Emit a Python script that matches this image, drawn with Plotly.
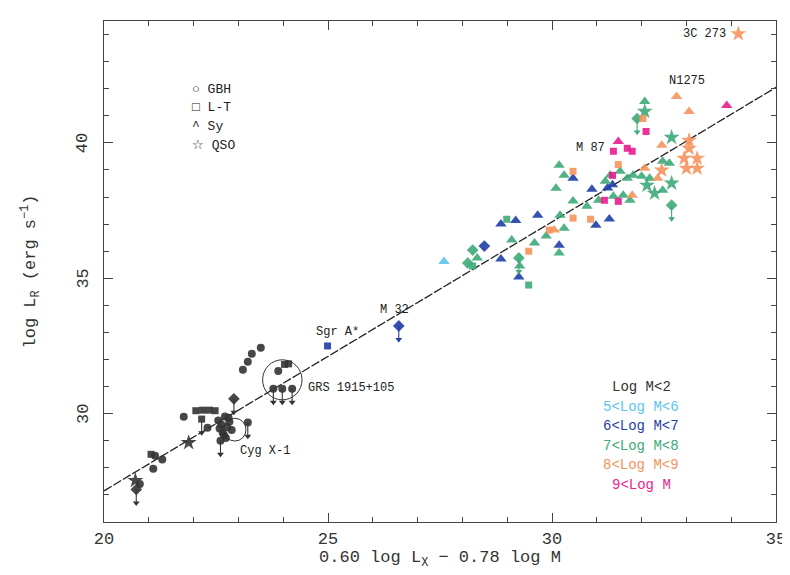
import plotly.graph_objects as go

# ---------------- data ----------------
x_range = [20, 35]
y_range = [26, 44.5]
y_tick_vals = [30, 35, 40]

fit_x = [20, 35]
fit_y = [27.15, 42.05]

# Log M < 2 (black)
black_x = [23.10, 23.21, 23.30, 23.50, 23.89, 24.03, 24.12, 23.78, 23.98, 24.20,
           21.78, 22.05, 22.20, 22.35, 22.48, 22.18, 22.31, 22.90, 23.21, 21.89,
           21.14, 21.30, 21.10, 21.05, 20.70, 20.72, 20.80,
           22.55, 22.62, 22.70, 22.75, 22.65, 22.80, 22.72, 22.60, 22.85, 22.78, 22.68, 22.58]
black_y = [31.62, 31.92, 32.21, 32.43, 31.58, 31.82, 31.84, 30.92, 30.92, 30.92,
           29.89, 30.11, 30.13, 30.13, 30.11, 29.80, 29.48, 30.55, 29.67, 28.93,
           28.45, 28.31, 27.97, 28.50, 27.53, 27.20, 27.40,
           29.75, 29.60, 29.90, 29.50, 29.30, 29.70, 29.10, 29.00, 29.40, 29.85, 29.20, 29.45]
black_cls = ["GBH", "GBH", "GBH", "GBH", "GBH", "LT", "LT", "GBH", "GBH", "GBH",
             "GBH", "LT", "LT", "LT", "LT", "LT", "GBH", "UL", "GBH", "QSO",
             "GBH", "GBH", "GBH", "LT", "QSO", "UL", "GBH",
             "GBH", "GBH", "GBH", "GBH", "GBH", "GBH", "GBH", "GBH", "GBH", "GBH", "GBH", "GBH"]
black_ul = [0, 0, 0, 0, 0, 0, 0, 1, 1, 1,
            0, 0, 0, 0, 0, 1, 0, 1, 1, 0,
            0, 0, 0, 0, 0, 1, 0,
            0, 0, 0, 0, 0, 0, 0, 1, 0, 0, 0, 0]

# 5 < Log M < 6 (light blue)
lblue_x = [27.59]
lblue_y = [35.62]
lblue_cls = ["Sy"]
lblue_ul = [0]

# 6 < Log M < 7 (dark blue)
dblue_x = [24.99, 26.58, 28.49, 28.86, 29.19, 29.68, 28.86, 29.26, 30.16, 30.47,
           30.89, 31.24, 30.98, 31.28, 31.35]
dblue_y = [32.50, 33.24, 36.19, 37.00, 37.13, 37.33, 35.71, 35.05, 36.22, 38.69,
           38.29, 38.33, 36.96, 37.19, 38.45]
dblue_cls = ["LT", "UL", "UL", "Sy", "Sy", "Sy", "Sy", "Sy", "Sy", "Sy",
             "Sy", "Sy", "Sy", "Sy", "Sy"]
dblue_ul = [0, 1, 0, 0, 0, 0, 0, 0, 0, 0, 0, 0, 0, 0, 0]

# 7 < Log M < 8 (green)
green_x = [30.16, 30.27, 30.09, 30.47, 30.78, 30.18, 31.30, 31.52, 31.19, 31.68,
           31.37, 31.59, 31.74, 31.04, 32.07, 32.47, 32.00, 32.18, 32.47, 29.87,
           30.16, 30.27, 29.10, 29.28, 29.61, 28.33, 31.81, 32.62,
           32.67, 32.29, 32.67, 32.07, 32.12,
           31.90, 32.67, 29.26, 28.23, 28.12,
           29.48, 28.99, 28.23]
green_y = [39.17, 38.80, 38.32, 37.85, 37.66, 37.33, 38.80, 38.95, 38.58, 38.69,
           38.03, 38.07, 37.88, 37.88, 41.53, 39.32, 38.77, 38.69, 38.25, 36.56,
           35.93, 36.85, 36.41, 35.45, 36.30, 35.75, 38.80, 39.25,
           40.20, 38.14, 38.51, 41.16, 38.43,
           40.90, 37.70, 35.75, 36.04, 35.56,
           34.75, 37.18, 35.45]
green_cls = ["Sy"] * 28 + ["QSO"] * 5 + ["UL"] * 5 + ["LT"] * 3
green_ul = [0] * 33 + [1, 1, 1, 0, 0] + [0] * 3

# 8 < Log M < 9 (orange)
orange_x = [32.78, 33.06, 32.45, 31.79, 30.05, 32.07, 32.36,
            34.16, 33.06, 33.06, 32.95, 33.24, 33.00, 33.24, 32.45,
            30.47, 31.48, 30.47, 30.86, 29.94, 29.48, 32.03]
orange_y = [41.71, 41.16, 39.91, 38.07, 36.78, 39.06, 38.69,
            44.03, 40.09, 39.80, 39.43, 39.43, 39.06, 39.06, 38.99,
            38.95, 39.20, 37.22, 37.18, 36.78, 36.00, 40.90]
orange_cls = ["Sy"] * 7 + ["QSO"] * 8 + ["LT"] * 7
orange_ul = [0] * 22

# 9 < Log M (magenta)
mag_x = [33.90, 31.48, 32.10, 31.37, 31.68, 31.79, 31.17, 31.48, 31.35]
mag_y = [41.38, 40.05, 40.42, 39.69, 39.80, 39.69, 37.88, 37.84, 38.80]
mag_cls = ["Sy", "Sy", "LT", "LT", "LT", "LT", "LT", "LT", "LT"]
mag_ul = [0] * 9

# circled sources (center x, center y, radius in x, radius in y)
circle_names = ["GRS 1915+105", "Cyg X-1"]
circle_cx = [23.98, 22.92]
circle_cy = [31.25, 29.41]
circle_rx = [0.44, 0.25]
circle_ry = [0.74, 0.42]

# source labels
label_text = ["Sgr A*", "M 32", "GRS 1915+105", "Cyg X-1", "M 87", "N1275", "3C 273"]
label_x = [24.68, 26.12, 24.51, 22.99, 30.50, 32.56, 32.89]
label_y = [33.00, 33.83, 30.96, 28.64, 39.80, 42.27, 44.03]

legend_cls_text = ["○ GBH", "□ L-T", "^ Sy", "☆ QSO"]
legend_mass_text = ["Log M<2", "5<Log M<6", "6<Log M<7", "7<Log M<8", "8<Log M<9", "9<Log M"]

# ---------------- styling ----------------
sym_map = {"GBH": "circle", "LT": "square", "Sy": "triangle-up", "QSO": "star", "UL": "diamond"}
size_map = {"GBH": 8, "LT": 7, "Sy": 10, "QSO": 12, "UL": 9}

groups = [
    ("Log M<2", "#333333", black_x, black_y, black_cls, black_ul),
    ("5<Log M<6", "#5cc4ee", lblue_x, lblue_y, lblue_cls, lblue_ul),
    ("6<Log M<7", "#1f3ea6", dblue_x, dblue_y, dblue_cls, dblue_ul),
    ("7<Log M<8", "#3daa78", green_x, green_y, green_cls, green_ul),
    ("8<Log M<9", "#f5935c", orange_x, orange_y, orange_cls, orange_ul),
    ("9<Log M", "#ea1c8d", mag_x, mag_y, mag_cls, mag_ul),
]

fig = go.Figure()

fig.add_trace(go.Scatter(x=fit_x, y=fit_y, mode="lines",
                         line=dict(color="#222", width=1.3, dash="9px,2px"),
                         showlegend=False, hoverinfo="skip"))

arrow_len = 0.5
for name, color, xs, ys, cls, ul in groups:
    fig.add_trace(go.Scatter(
        x=xs, y=ys, mode="markers", name=name, showlegend=False,
        marker=dict(symbol=[sym_map[k] for k in cls],
                    size=[size_map[k] for k in cls],
                    color=color, opacity=0.9, line=dict(width=0))))
    # upper-limit arrows: shaft + head, derived from the data points
    lx, ly, hx, hy = [], [], [], []
    for xi, yi, u in zip(xs, ys, ul):
        if u:
            lx += [xi, xi, None]
            ly += [yi, yi - arrow_len, None]
            hx.append(xi)
            hy.append(yi - arrow_len)
    if hx:
        fig.add_trace(go.Scatter(x=lx, y=ly, mode="lines", showlegend=False,
                                 line=dict(color=color, width=1.1), hoverinfo="skip"))
        fig.add_trace(go.Scatter(x=hx, y=hy, mode="markers", showlegend=False,
                                 marker=dict(symbol="triangle-down", size=6, color=color),
                                 hoverinfo="skip"))

shapes = []
for cx, cy, rx, ry in zip(circle_cx, circle_cy, circle_rx, circle_ry):
    shapes.append(dict(type="circle", xref="x", yref="y",
                       x0=cx - rx, x1=cx + rx, y0=cy - ry, y1=cy + ry,
                       line=dict(color="#333", width=1)))

mono = "Liberation Mono"
annotations = []
for t, xi, yi in zip(label_text, label_x, label_y):
    annotations.append(dict(x=xi, y=yi, text=t, showarrow=False, xanchor="left",
                            yanchor="middle", font=dict(family=mono, size=12, color="#222")))

cls_y_px = [81, 99, 118, 137]
for t, py in zip(legend_cls_text, cls_y_px):
    annotations.append(dict(x=(183 - 96) / 682, y=(514 - py) / 502, xref="paper", yref="paper",
                            text=t, showarrow=False, xanchor="left", yanchor="middle",
                            font=dict(family=mono, size=13, color="#222")))

mass_y_px = [379, 399, 418, 438, 457, 477]
for (name, color, *_), t, py in zip(groups, legend_mass_text, mass_y_px):
    annotations.append(dict(x=(641 - 96) / 682, y=(514 - py) / 502, xref="paper", yref="paper",
                            text=t, showarrow=False, xanchor="center", yanchor="middle",
                            font=dict(family=mono, size=14, color=color)))

# rotated y tick labels (as in the reference)
for v in y_tick_vals:
    annotations.append(dict(x=(75 - 96) / 682, y=v, xref="paper", yref="y",
                            text=str(v), showarrow=False, textangle=-90,
                            xanchor="center", yanchor="middle",
                            font=dict(family=mono, size=17, color="#333")))

axis_common = dict(showline=True, linecolor="#444", linewidth=1.2, mirror="ticks",
                   ticks="inside", ticklen=9, tickcolor="#444", showgrid=False, zeroline=False,
                   tickfont=dict(family=mono, size=17, color="#333"),
                   minor=dict(ticks="inside", ticklen=5, tickcolor="#444", dtick=1))

fig.update_xaxes(range=x_range, dtick=5, tick0=20, **axis_common,
                 title=dict(text="0.60 log L<sub>X</sub> − 0.78 log M",
                            font=dict(family=mono, size=17, color="#333"), standoff=2))
fig.update_yaxes(range=y_range, dtick=5, tick0=30, showticklabels=False, **axis_common,
                 title=dict(text="log L<sub>R</sub> (erg s<sup>−1</sup>)",
                            font=dict(family=mono, size=17, color="#333"), standoff=62))

fig.update_layout(width=790, height=575, margin=dict(l=96, r=12, t=12, b=61),
                  paper_bgcolor="white", plot_bgcolor="white",
                  shapes=shapes, annotations=annotations, showlegend=False)

fig.write_html("out.html")
